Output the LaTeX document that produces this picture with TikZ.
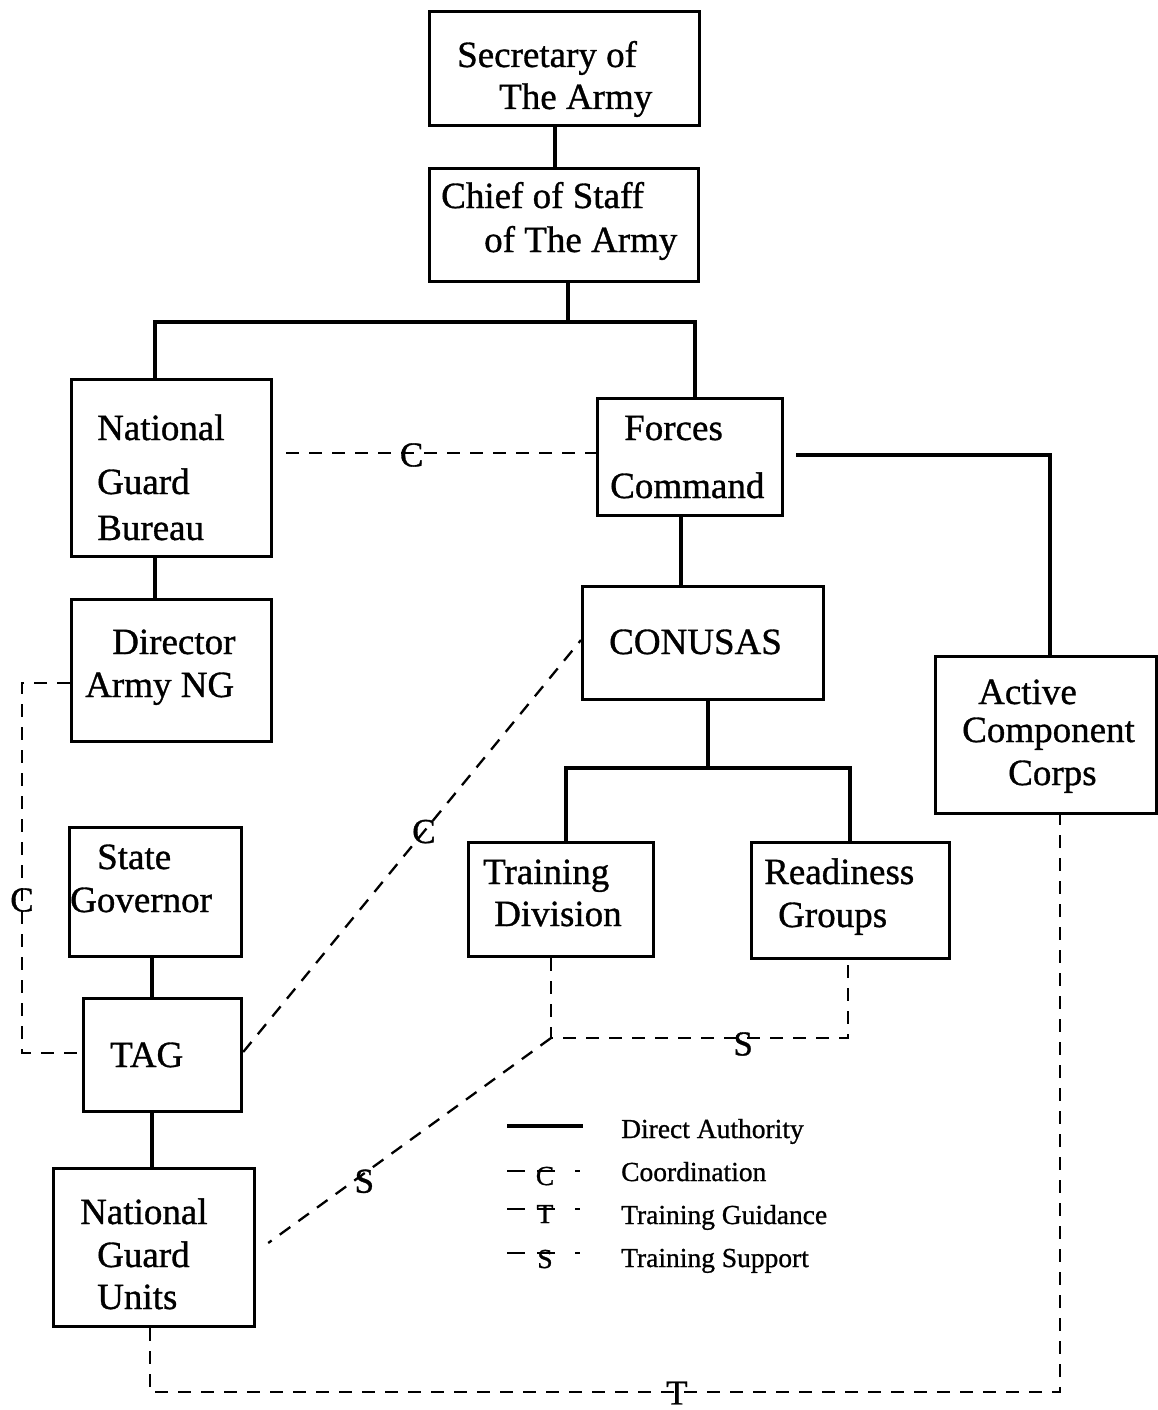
\documentclass[tikz,border=0pt]{standalone}
\usepackage{fontspec}
\setmainfont{Liberation Serif}[FakeBold=0.9]
\begin{document}
\begin{tikzpicture}[x=1pt,y=-1pt,
  box/.style={draw,line width=3.2pt,inner sep=0pt,anchor=north west},
  txt/.style={anchor=base west,inner sep=0pt,font=\fontsize{37}{44}\selectfont},
  solid line/.style={line width=3.2pt},
  dash line/.style={line width=2.3pt,dash pattern=on 13pt off 10pt},
  lbl/.style={inner sep=0pt,font=\fontsize{35}{40}\selectfont},
  legtxt/.style={anchor=base west,inner sep=0pt,font=\fontsize{27.5}{33}\selectfont},
  leglbl/.style={anchor=base,inner sep=0pt,font=\fontsize{27.5}{33}\selectfont},
  legdash/.style={line width=2.4pt}]
\useasboundingbox (0,0) rectangle (1157,1410);
% boxes
\node[box,minimum width=270,minimum height=114] (sec) at (428,10) {};
\node[box,minimum width=269,minimum height=113] (cos) at (428,167) {};
\node[box,minimum width=200,minimum height=177] (ngb) at (70,378) {};
\node[box,minimum width=185,minimum height=117] (fc) at (596,397) {};
\node[box,minimum width=200,minimum height=142] (dir) at (70,598) {};
\node[box,minimum width=241,minimum height=113] (con) at (581,585) {};
\node[box,minimum width=185,minimum height=114] (td) at (467,841) {};
\node[box,minimum width=198,minimum height=116] (rg) at (750,841) {};
\node[box,minimum width=221,minimum height=157] (acc) at (934,655) {};
\node[box,minimum width=172,minimum height=129] (gov) at (68,826) {};
\node[box,minimum width=158,minimum height=113] (tag) at (82,997) {};
\node[box,minimum width=201,minimum height=158] (ngu) at (52,1167) {};
% texts
\node[txt] (sec1) at (457,67) {Secretary of};
\node[txt] (sec2) at (499,109) {The Army};
\node[txt] (cos1) at (441,208) {Chief of Staff};
\node[txt] (cos2) at (484,252) {of The Army};
\node[txt] (ngb1) at (97,440) {National};
\node[txt] (ngb2) at (97,494) {Guard};
\node[txt] (ngb3) at (97,540) {Bureau};
\node[txt] (fc1) at (624,440) {Forces};
\node[txt] (fc2) at (610,498) {Command};
\node[txt] (dir1) at (112,654) {Director};
\node[txt] (dir2) at (85,697) {Army NG};
\node[txt] (con1) at (609,654) {CONUSAS};
\node[txt] (td1) at (483,884) {Training};
\node[txt] (td2) at (494,926) {Division};
\node[txt] (rg1) at (764,884) {Readiness};
\node[txt] (rg2) at (778,927) {Groups};
\node[txt] (acc1) at (978,704) {Active};
\node[txt] (acc2) at (962,742) {Component};
\node[txt] (acc3) at (1008,785) {Corps};
\node[txt] (gov1) at (97,869) {State};
\node[txt] (gov2) at (70,912) {Governor};
\node[txt] (tag1) at (110,1067) {TAG};
\node[txt] (ngu1) at (80,1224) {National};
\node[txt] (ngu2) at (97,1267) {Guard};
\node[txt] (ngu3) at (97,1309) {Units};
% solid connectors
\draw[solid line] (sec.south -| 555,0) -- (cos.north -| 555,0);
\coordinate (j1) at (568,322);
\draw[solid line] (cos.south -| j1) -- (j1);
\draw[solid line] (ngb.north -| 155,0) |- (695,322) -- (fc.north -| 695,0);
\draw[solid line] (ngb.south -| 155,0) -- (dir.north -| 155,0);
\draw[solid line] (fc.south -| 681,0) -- (con.north -| 681,0);
\draw[solid line] ([xshift=12pt]fc.east |- 0,455) -| (acc.north -| 1050,0);
\coordinate (j2) at (708,768);
\draw[solid line] (con.south -| j2) -- (j2);
\draw[solid line] (td.north -| 566,0) |- (850,768) -- (rg.north -| 850,0);
\draw[solid line] (gov.south -| 152,0) -- (tag.north -| 152,0);
\draw[solid line] (tag.south -| 152,0) -- (ngu.north -| 152,0);
% dashed connectors
\draw[dash line] ([xshift=13pt]ngb.east |- 0,453) -- node[lbl,pos=0.405,yshift=-2pt] (lc1) {C} (fc.west |- 0,453);
\draw[dash line] (dir.west |- 0,683) -| (22,900) node[lbl] (lc2) {C} |- (tag.west |- 0,1053);
\draw[dash line] (tag.east |- 0,1052) -- node[lbl,pos=0.535] (lc3) {C} (con.west |- 0,640);
\coordinate (sj) at (551,1038);
\draw[dash line] (td.south -| sj) -- (sj) -- node[lbl,pos=0.647,yshift=-6pt] (ls1) {S} (848,1038) -- (rg.south -| 848,0);
\draw[dash line] (sj) -- node[lbl,pos=0.66,yshift=-8pt] (ls2) {S} ([xshift=12pt]ngu.east |- 0,1243);
\coordinate (tj) at (150,1392);
\draw[dash line] (ngu.south -| tj) -- (tj) -- node[lbl,pos=0.579,yshift=-1pt] (lt) {T} (1060,1392) -- (acc.south -| 1060,0);
% legend
\draw[solid line] (507,1126) -- (583,1126);
\node[legtxt] (leg1) at (621,1138) {Direct Authority};
\draw[legdash] (507,1171) -- (525,1171) (537,1171) -- (555,1171) (575,1171) -- (580,1171);
\node[leglbl] (legc) at (545,1185) {C};
\node[legtxt] (leg2) at (621,1181) {Coordination};
\draw[legdash] (507,1209) -- (525,1209) (537,1209) -- (555,1209) (575,1209) -- (580,1209);
\node[leglbl] (legt) at (545,1223) {T};
\node[legtxt] (leg3) at (621,1224) {Training Guidance};
\draw[legdash] (507,1253) -- (525,1253) (537,1253) -- (555,1253) (575,1253) -- (580,1253);
\node[leglbl] (legs) at (545,1268) {S};
\node[legtxt] (leg4) at (621,1267) {Training Support};
\end{tikzpicture}
\end{document}
